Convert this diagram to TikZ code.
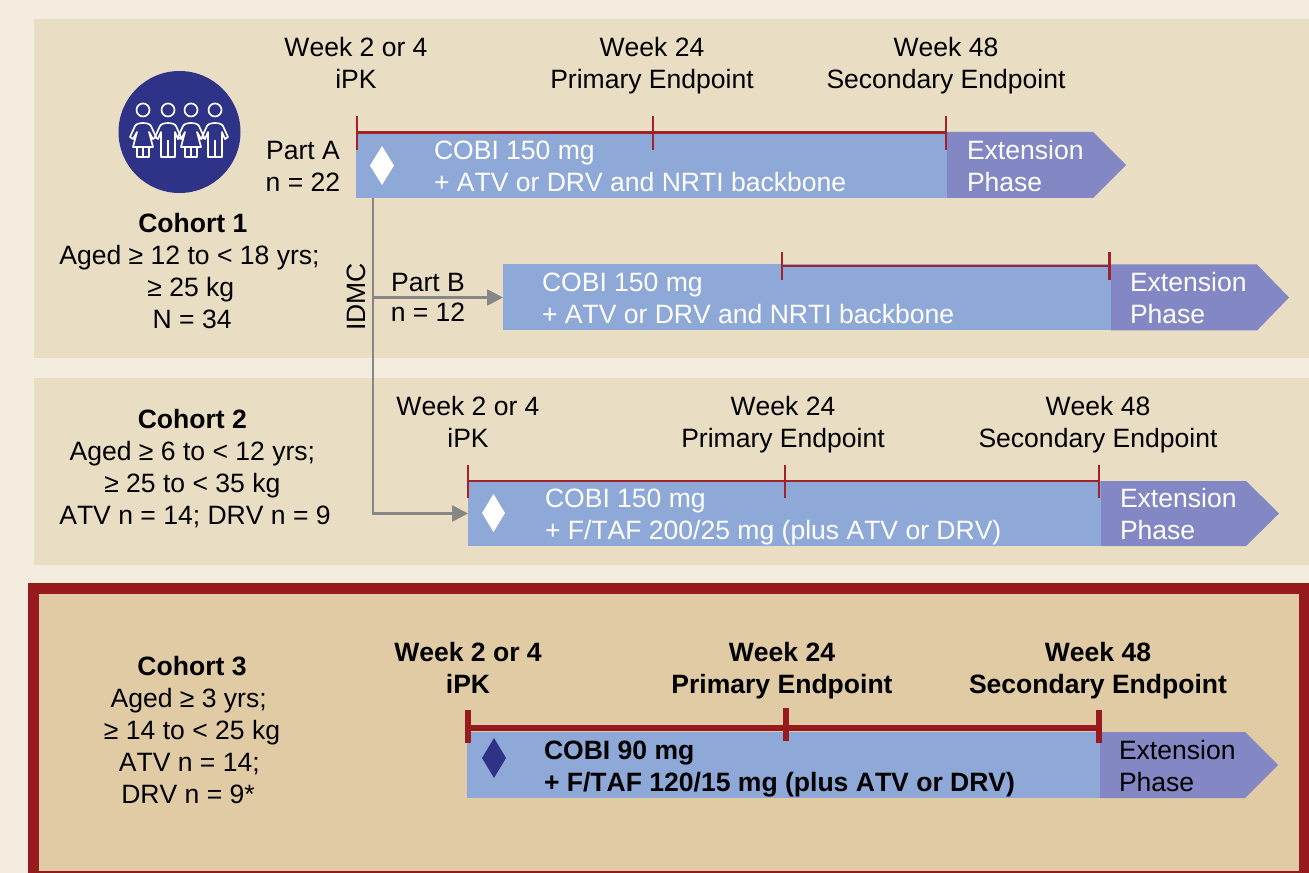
\documentclass[tikz,border=0pt]{standalone}
\usepackage{fontspec}
\setmainfont[Kerning=Off]{Liberation Sans}
\usetikzlibrary{arrows.meta}
\definecolor{pagebg}{HTML}{F4ECDF}
\definecolor{panelbg}{HTML}{E9DDC3}
\definecolor{panelthree}{HTML}{E0CBA4}
\definecolor{darkred}{HTML}{971B1E}
\definecolor{tickred}{HTML}{A0222B}
\definecolor{barblue}{HTML}{8EA9D8}
\definecolor{extblue}{HTML}{8387C3}
\definecolor{navy}{HTML}{2E3387}
\definecolor{flowgray}{HTML}{868686}
\tikzset{
  txt/.style={inner sep=0pt,outer sep=0pt,align=center,text=black,font=\fontsize{19.9}{24}\selectfont},
  ltxt/.style={txt,align=left,anchor=west},
  wtxt/.style={ltxt,text=white},
  barbox/.style={fill=barblue,draw=none,inner sep=0pt,outer sep=0pt},
  extfill/.style={fill=extblue,draw=none},
  thinbar/.style={draw=tickred,line width=2pt},
  thickbar/.style={draw=darkred,line width=4.2pt},
  flow/.style={draw=flowgray,line width=2pt},
  flowarrow/.style={flow,-{Triangle[length=12pt,width=12pt]},shorten >=0pt},
  personline/.style={draw=white,line width=1.25pt,line join=round,fill=none},
  woman/.pic={
    \draw[personline] (0,0) circle[radius=6.5];
    \draw[personline] (-13,27) -- (-8,16) .. controls (-6,12) and (6,12) .. (8,16) -- (13,27) -- (10,29) -- (6,22) -- (10,37) -- (-10,37) -- (-6,22) -- (-10,29) -- cycle;
    \draw[personline] (-6,37) -- (-6,47) -- (6,47) -- (6,37) (0,37) -- (0,47);
  },
  man/.pic={
    \draw[personline] (0,0) circle[radius=6.5];
    \draw[personline] (-13,27) -- (-8,16) .. controls (-6,12) and (6,12) .. (8,16) -- (13,27) -- (10,29) -- (7,22) -- (7,47) -- (-7,47) -- (-7,22) -- (-10,29) -- cycle;
    \draw[personline] (0,30) -- (0,47);
  }
}
\newcommand{\ls}{\strut}
\begin{document}
\begin{tikzpicture}[x=0.75pt,y=-0.75pt]
\useasboundingbox (0,0) rectangle (1309,873);
\fill[pagebg] (0,0) rectangle (1309,873);
\fill[panelbg] (34,19) rectangle (1309,358);
\fill[panelbg] (34,378) rectangle (1309,565);
\fill[darkred] (28,583) rectangle (1309,873);
\fill[panelthree] (39,594) rectangle (1299,870.5);

% icon
\node[circle,fill=navy,minimum size=91.5pt,inner sep=0pt] (icon) at (179.5,132) {};
\pic at (143,110) {woman};
\pic at (168,110) {man};
\pic at (191,110) {woman};
\pic at (215,110) {man};

% bars
\node[barbox,minimum width=591*0.75pt,minimum height=66*0.75pt] (barA) at (651.5,165) {};
\fill[extfill] (947,132) -- (1093,132) -- (1126,165) -- (1093,198) -- (947,198) -- cycle;
\node[barbox,minimum width=608*0.75pt,minimum height=66*0.75pt] (barB) at (807,297.5) {};
\fill[extfill] (1111,264.5) -- (1257,264.5) -- (1289,297.5) -- (1257,330.5) -- (1111,330.5) -- cycle;
\node[barbox,minimum width=633*0.75pt,minimum height=65*0.75pt] (barC) at (784.5,513.5) {};
\fill[extfill] (1101,481) -- (1246,481) -- (1279,513.5) -- (1246,546) -- (1101,546) -- cycle;
\node[barbox,minimum width=633*0.75pt,minimum height=66*0.75pt] (barD) at (783.5,765) {};
\fill[extfill] (1100,732) -- (1245,732) -- (1278,765) -- (1245,798) -- (1100,798) -- cycle;

% timelines
\draw[thinbar] (357,132.5) -- (947,132.5) (357,116) -- (357,150) (653,116) -- (653,150) (946,116) -- (946,150);
\draw[thinbar] (782,266) -- (1110,266) (782,252) -- (782,280) (1109.5,252) -- (1109.5,280);
\draw[thinbar] (468,481) -- (1099,481) (468,465) -- (468,497.5) (785,465) -- (785,497.5) (1099,465) -- (1099,497.5);
\draw[thickbar] (468,728) -- (1099,728) (468,710) -- (468,743) (786,708) -- (786,741) (1099,710) -- (1099,743);

% diamonds
\fill[white] (370,165.5) -- (382,146) -- (394,165.5) -- (382,185) -- cycle;
\fill[white] (482,513) -- (493.5,494) -- (505,513) -- (493.5,532) -- cycle;
\fill[navy] (482,758) -- (494,738) -- (506,758) -- (494,778) -- cycle;

% connectors
\coordinate (idmcTop) at (373,198);
\draw[flowarrow] (idmcTop) |- (barC.west);
\draw[flowarrow] (idmcTop |- barB.west) -- (barB.west);

% header labels
\node[txt] (w1a) at (356,66) {\ls Week 2 or 4\\\ls iPK};
\node[txt] (w1b) at (652,66) {\ls Week 24\\\ls Primary Endpoint};
\node[txt] (w1c) at (946,66) {\ls Week 48\\\ls Secondary Endpoint};
\node[txt] (w3a) at (468,425) {\ls Week 2 or 4\\\ls iPK};
\node[txt] (w3b) at (783,425) {\ls Week 24\\\ls Primary Endpoint};
\node[txt] (w3c) at (1098,425) {\ls Week 48\\\ls Secondary Endpoint};
\node[txt] (w4a) at (468,671) {\ls\textbf{Week 2 or 4}\\\ls\textbf{iPK}};
\node[txt] (w4b) at (782,671) {\ls\textbf{Week 24}\\\ls\textbf{Primary Endpoint}};
\node[txt] (w4c) at (1098,671) {\ls\textbf{Week 48}\\\ls\textbf{Secondary Endpoint}};

% left labels
\node[txt] (partA) at (303,169.5) {\ls Part A\\\ls n = 22};
\node[txt] (partB) at (428,300) {\ls Part B\\[-1.5pt]\ls n = 12};
\node[txt,rotate=90] (idmc) at (356,297) {IDMC};
\node[txt] (c1) at (189.5,274) {\ls\hspace*{5pt}\textbf{Cohort 1}\\\ls Aged ≥ 12 to < 18 yrs;\\\ls\hspace*{2pt}≥ 25 kg\\\ls\hspace*{4pt}N = 34};
\node[txt] (c2) at (195,470) {\ls\hspace*{-4pt}\textbf{Cohort 2}\\\ls\hspace*{-4pt}Aged ≥ 6 to < 12 yrs;\\\ls\hspace*{-4pt}≥ 25 to < 35 kg\\\ls ATV n = 14; DRV n = 9};
\node[txt] (c3) at (192,733) {\ls\textbf{Cohort 3}\\\ls\hspace*{-5pt}Aged ≥ 3 yrs;\\\ls ≥ 14 to < 25 kg\\\ls\hspace*{-4pt}ATV n = 14;\\\ls\hspace*{-6pt}DRV n = 9*};

% bar texts
\node[wtxt] (tA) at (434,169) {\ls COBI 150 mg\\\ls + ATV or DRV and NRTI backbone};
\node[wtxt] (eA) at (967,169) {\ls Extension\\\ls Phase};
\node[wtxt] (tB) at (542,301) {\ls COBI 150 mg\\\ls + ATV or DRV and NRTI backbone};
\node[wtxt] (eB) at (1130,301) {\ls Extension\\\ls Phase};
\node[wtxt] (tC) at (545,517) {\ls COBI 150 mg\\\ls + F/TAF 200/25 mg (plus ATV or DRV)};
\node[wtxt] (eC) at (1120,517) {\ls Extension\\\ls Phase};
\node[ltxt] (tD) at (544,769) {\ls\textbf{COBI 90 mg}\\\ls\textbf{+ F/TAF 120/15 mg (plus ATV or DRV)}};
\node[ltxt] (eD) at (1119,769) {\ls Extension\\\ls Phase};
\end{tikzpicture}
\end{document}
